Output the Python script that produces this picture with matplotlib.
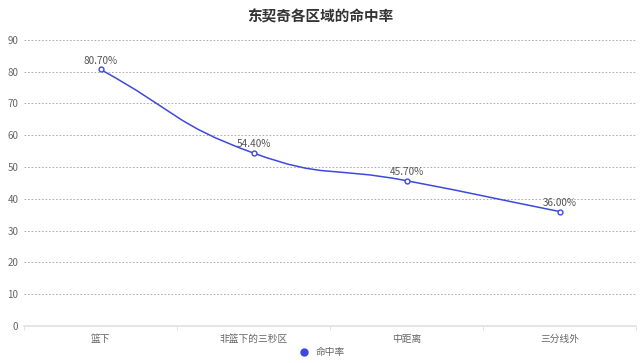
import numpy as np
import matplotlib.pyplot as plt
from matplotlib.path import Path
from matplotlib.patches import PathPatch
from matplotlib.lines import Line2D

plt.rcParams['font.family'] = ['Noto Sans CJK SC', 'DejaVu Sans']

categories = ['篮下', '非篮下的三秒区', '中距离', '三分线外']
rates = [80.70, 54.40, 45.70, 36.00]
series_name = '命中率'
title = '东契奇各区域的命中率'

line_color = '#3d49de'

fig = plt.figure(figsize=(6.4, 3.63), dpi=100)
ax = fig.add_axes([0.0375, 0.102, 0.9565, 0.788])

x = np.arange(len(categories))
y = np.array(rates)

ax.set_xlim(-0.5, len(categories) - 0.5)
ax.set_ylim(0, 90)

# smooth curve like echarts (bezier control points from neighbours)
sx, sy = 153.0, 31.8 / 10  # pixels per unit, for distance weighting
smooth = 0.5
verts = [(x[0], y[0])]
codes = [Path.MOVETO]
n = len(x)
cps = []
for i in range(n):
    prev_i = max(i - 1, 0)
    next_i = min(i + 1, n - 1)
    vx = x[next_i] - x[prev_i]
    vy = y[next_i] - y[prev_i]
    d0 = np.hypot((x[i] - x[prev_i]) * sx, (y[i] - y[prev_i]) * sy)
    d1 = np.hypot((x[i] - x[next_i]) * sx, (y[i] - y[next_i]) * sy)
    r = d0 / (d0 + d1) if d0 + d1 > 0 else 0.5
    cp0 = (x[i] - vx * smooth * r, y[i] - vy * smooth * r)
    cp1 = (x[i] + vx * smooth * (1 - r), y[i] + vy * smooth * (1 - r))
    cps.append((cp0, cp1))
for i in range(n - 1):
    verts += [cps[i][1], cps[i + 1][0], (x[i + 1], y[i + 1])]
    codes += [Path.CURVE4] * 3
ax.add_patch(PathPatch(Path(verts, codes), facecolor='none',
                       edgecolor=line_color, lw=1.1, zorder=3))

ax.plot(x, y, linestyle='none', marker='o', markersize=3.5,
        markerfacecolor='white', markeredgecolor=line_color,
        markeredgewidth=1.0, zorder=4)

for xi, yi in zip(x, y):
    ax.text(xi, yi + 1.2, f'{yi:.2f}%', ha='center', va='bottom',
            fontsize=7.2, color='#555555', zorder=5)

ax.set_yticks(np.arange(0, 91, 10))
for v in range(10, 91, 10):
    ax.axhline(v, color='#b0b0b0', lw=0.7, ls=(0, (1.8, 1.8)), zorder=1)

ax.set_xticks(x)
ax.set_xticklabels(categories)
ax.set_xticks(np.arange(-0.5, len(categories), 1), minor=True)
ax.tick_params(axis='x', which='major', length=0, labelsize=7,
               labelcolor='#666666', pad=6)
ax.tick_params(axis='x', which='minor', length=3, color='#dddddd')
ax.tick_params(axis='y', length=0, labelsize=7, labelcolor='#666666', pad=4)

for s in ['top', 'right', 'left']:
    ax.spines[s].set_visible(False)
ax.spines['bottom'].set_color('#e0e0e0')
ax.spines['bottom'].set_linewidth(1.2)

fig.text(0.5, 0.955, title, ha='center', va='center', fontsize=10.5,
         fontweight='bold', color='#333333')

handle = Line2D([], [], linestyle='none', marker='o', markersize=5,
                markerfacecolor=line_color, markeredgecolor=line_color)
fig.legend([handle], [series_name], loc='center', bbox_to_anchor=(0.5, 0.03),
           frameon=False, fontsize=7, handletextpad=0.2,
           labelcolor='#666666')

fig.savefig('out.png', dpi=100)
